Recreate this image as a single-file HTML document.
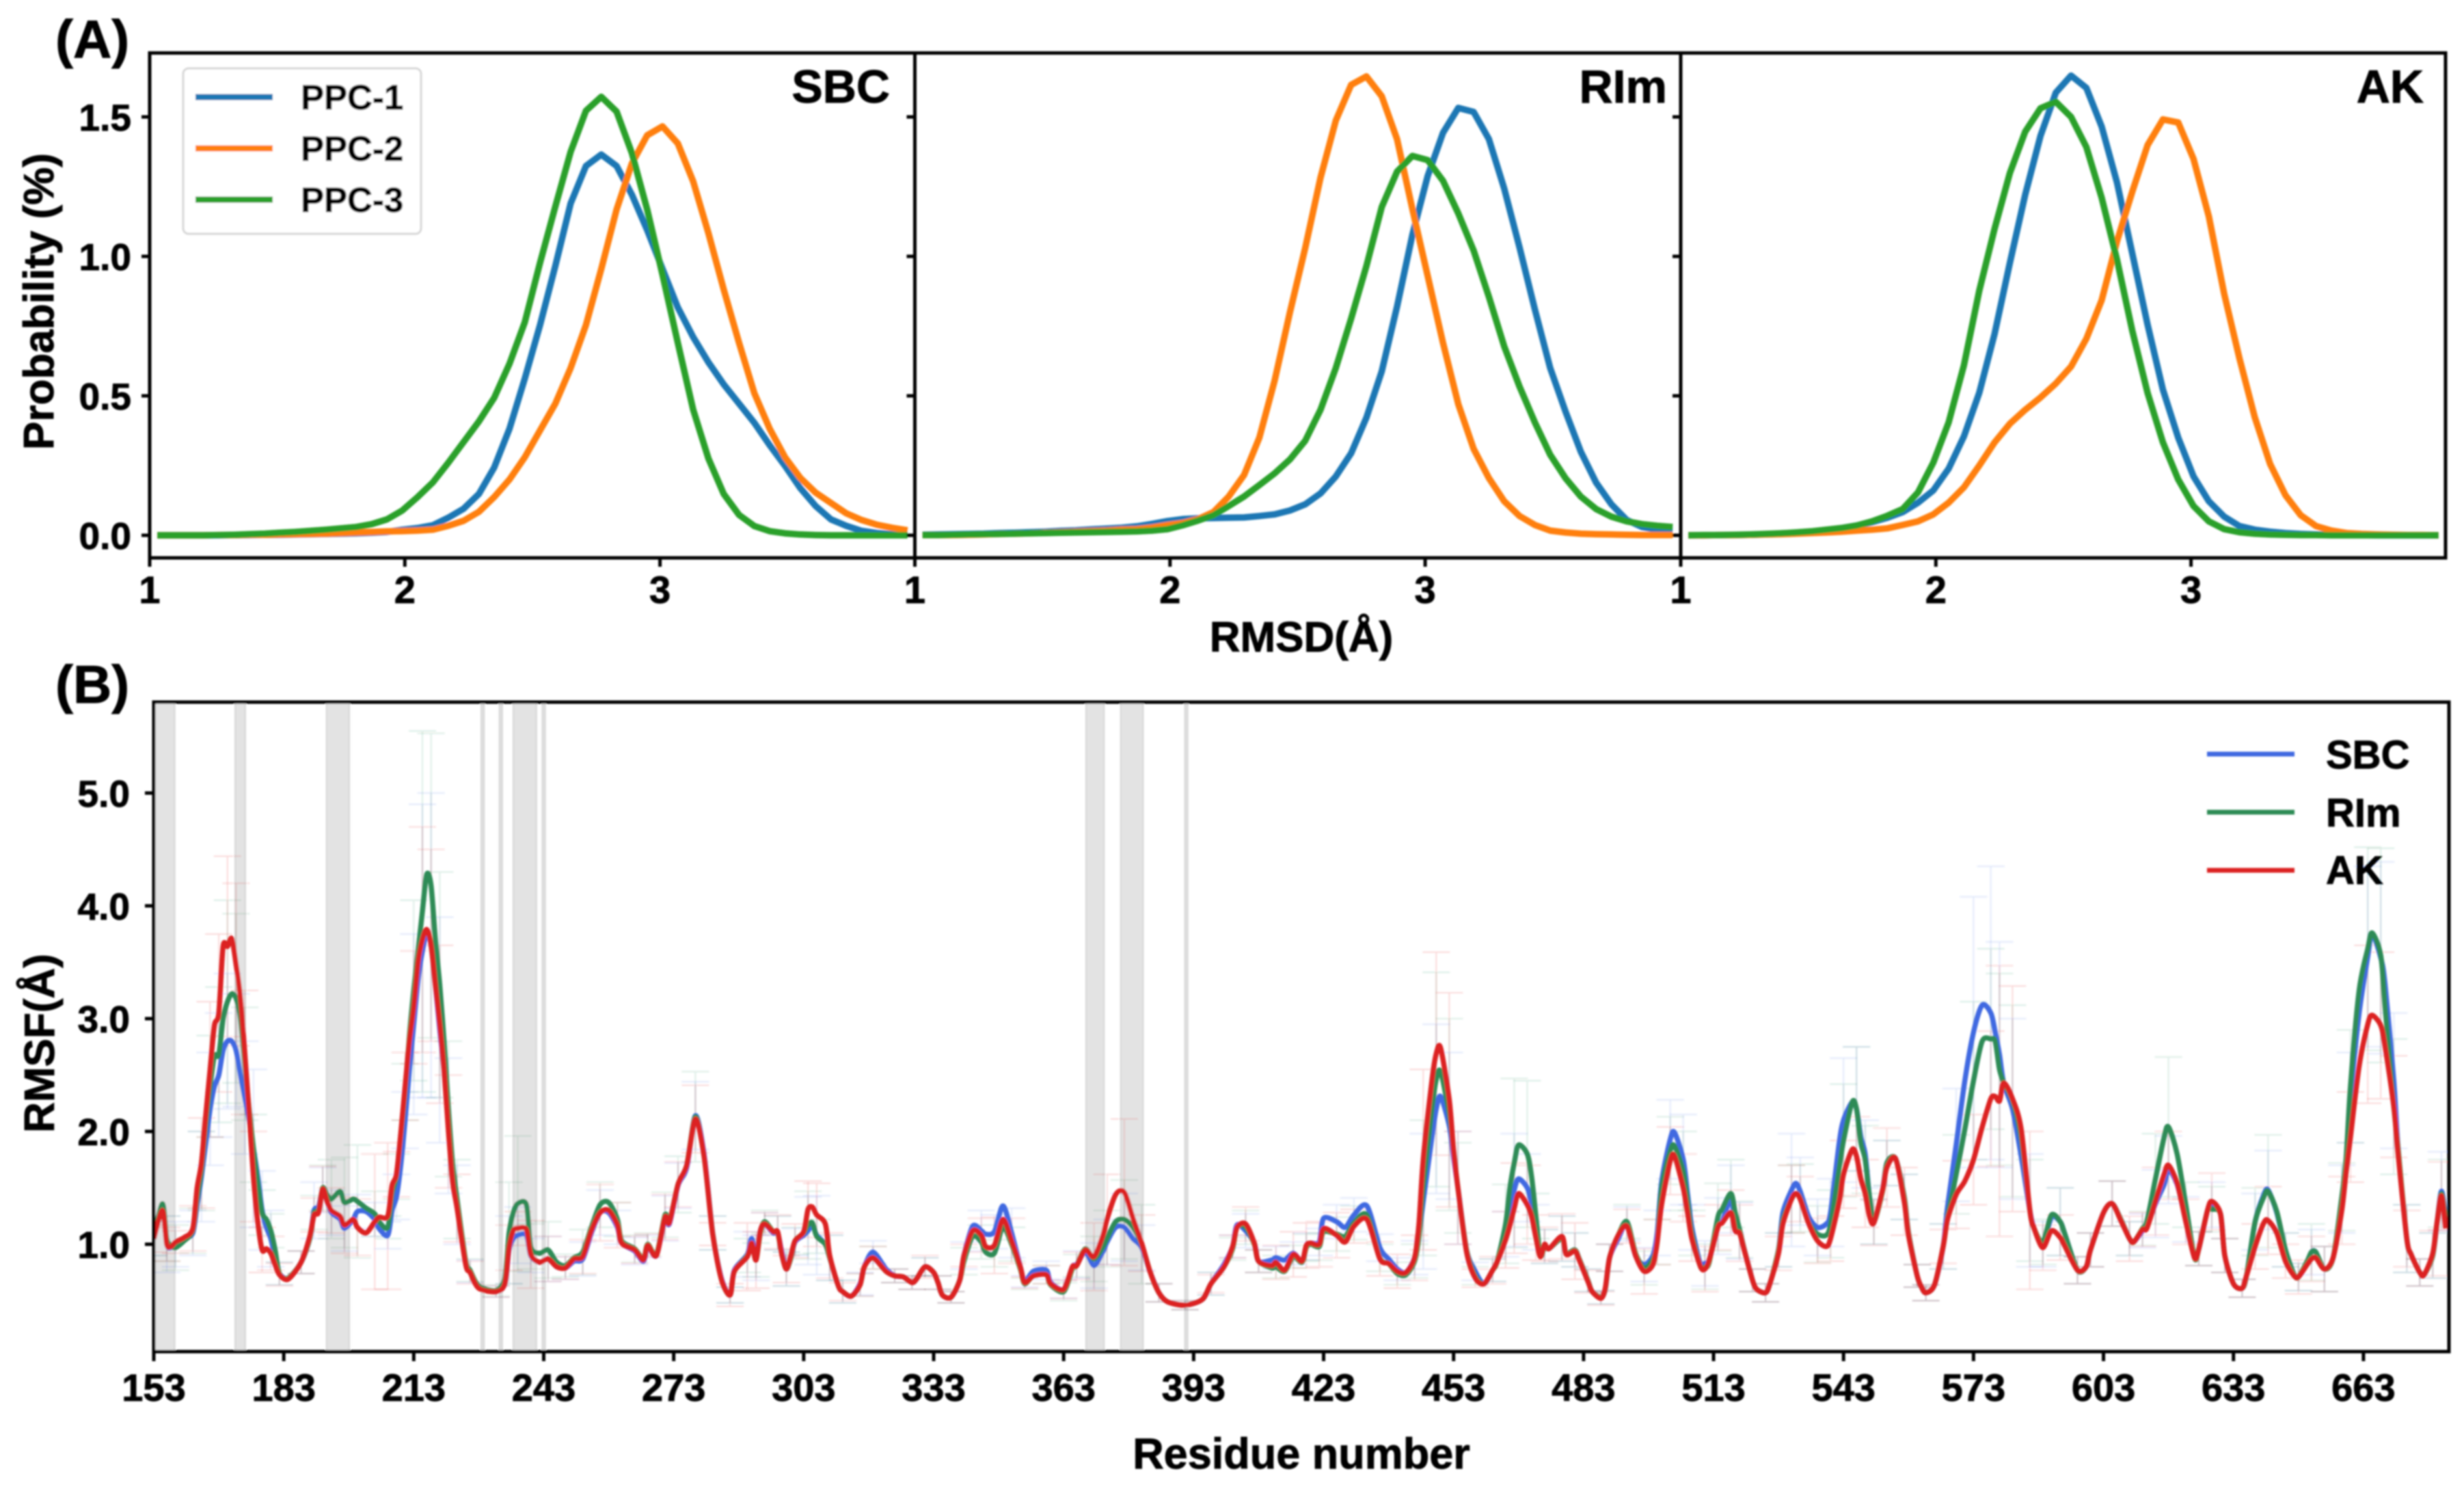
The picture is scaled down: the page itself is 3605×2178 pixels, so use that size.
<!DOCTYPE html>
<html lang="en">
<head>
<meta charset="utf-8">
<title>RMSD and RMSF chart</title>
<style>
html,body{margin:0;padding:0;background:#fff;}
svg{display:block;}
text{font-family:"Liberation Sans",Arial,sans-serif;font-weight:bold;fill:#000;stroke:#000;stroke-width:0.9px;}
</style>
</head>
<body>
<svg id="figure" xmlns="http://www.w3.org/2000/svg" width="3605" height="2178" viewBox="0 0 3605 2178">
<defs>
<filter id="soft" filterUnits="userSpaceOnUse" x="0" y="0" width="3605" height="2178"><feGaussianBlur stdDeviation="1.3"/></filter>
<clipPath id="clip-b"><rect x="225" y="1027" width="3358" height="950"/></clipPath>
</defs>
<rect x="0" y="0" width="3605" height="2178" fill="#fff"/>
<g id="root" filter="url(#soft)">
  <g id="panel-a"></g>
  <g id="panel-b"></g>
  <text x="81" y="84" font-size="78">(A)</text>
  <text x="81" y="1028" font-size="78">(B)</text>
  <text x="1302" y="150" font-size="68" text-anchor="end">SBC</text>
  <text x="2439" y="150" font-size="68" text-anchor="end">RIm</text>
  <text x="3546" y="150" font-size="68" text-anchor="end">AK</text>
  <text transform="translate(78,441) rotate(-90)" font-size="62" text-anchor="middle">Probability (%)</text>
  <text x="1904" y="953" font-size="62" text-anchor="middle">RMSD(Å)</text>
  <text transform="translate(79,1526) rotate(-90)" font-size="62" text-anchor="middle">RMSF(Å)</text>
  <text x="1904" y="2148" font-size="63" text-anchor="middle">Residue number</text>
  <g>
    <rect x="268" y="100" width="348" height="242" rx="8" fill="#fff" stroke="#d6d6d6" stroke-width="3"/>
    <line x1="286" y1="142" x2="399" y2="142" stroke="#1f77b4" stroke-width="9"/>
    <text x="440" y="160" font-size="51">PPC-1</text>
    <line x1="286" y1="217" x2="399" y2="217" stroke="#ff7f0e" stroke-width="9"/>
    <text x="440" y="235" font-size="51">PPC-2</text>
    <line x1="286" y1="292" x2="399" y2="292" stroke="#2ca02c" stroke-width="9"/>
    <text x="440" y="310" font-size="51">PPC-3</text>
  </g>
  <g>
    <line x1="3229" y1="1103" x2="3357" y2="1103" stroke="#4169e1" stroke-width="7"/>
    <text x="3403" y="1124" font-size="58">SBC</text>
    <line x1="3229" y1="1188" x2="3357" y2="1188" stroke="#2e8b57" stroke-width="7"/>
    <text x="3403" y="1209" font-size="58">RIm</text>
    <line x1="3229" y1="1273" x2="3357" y2="1273" stroke="#dc2020" stroke-width="7"/>
    <text x="3403" y="1293" font-size="58">AK</text>
  </g>
</g>
</svg>
<script>
// ---- Panel A data: probability (%) per RMSD bin; bins are 0.06 wide, 50 per curve ----
const rmsdFirstBin = 1.03;
const rmsdBinWidth = 0.06;
const rmsdXTicks = [1, 2, 3];
const probYTicks = [0, 0.5, 1, 1.5];
const probYLabels = ['0.0', '0.5', '1.0', '1.5'];

const sbcPpc1 = [0,0,0,0,0,.001,.001,.002,.002,.003,.004,.005,.006,.007,.009,.012,.02,.026,.036,.063,.095,.148,.243,.382,.562,.754,.966,1.19,1.324,1.365,1.324,1.221,1.094,.955,.817,.711,.62,.541,.472,.403,.323,.249,.169,.105,.057,.034,.016,.008,.004,.002];
const sbcPpc2 = [0,0,0,0,.001,.001,.002,.002,.003,.004,.005,.006,.008,.01,.012,.014,.015,.017,.02,.034,.052,.084,.137,.2,.28,.376,.472,.6,.754,.955,1.168,1.333,1.434,1.466,1.405,1.269,1.083,.881,.69,.509,.382,.28,.206,.153,.116,.079,.055,.038,.027,.018];
const sbcPpc3 = [0,0,0,0,.001,.002,.004,.006,.009,.012,.016,.02,.025,.03,.04,.057,.089,.137,.19,.26,.334,.408,.493,.615,.764,.977,1.179,1.375,1.522,1.572,1.519,1.37,1.168,.934,.69,.451,.275,.148,.073,.033,.015,.007,.003,.001,0,0,0,0,0,0];

const rlmPpc1 = [.002,.003,.004,.005,.006,.008,.009,.011,.013,.016,.018,.021,.024,.027,.032,.041,.051,.058,.061,.062,.063,.064,.069,.075,.089,.111,.15,.211,.294,.422,.588,.82,1.077,1.288,1.443,1.532,1.518,1.42,1.243,1.032,.81,.6,.444,.3,.189,.111,.055,.03,.02,.018];
const rlmPpc2 = [.001,.001,.001,.002,.003,.005,.006,.007,.009,.011,.013,.015,.017,.02,.022,.028,.037,.044,.058,.083,.139,.216,.35,.555,.8,1.03,1.282,1.487,1.615,1.645,1.574,1.42,1.17,.93,.69,.47,.31,.205,.122,.069,.037,.017,.01,.006,.004,.003,.002,.001,.001,.001];
const rlmPpc3 = [.001,.001,.002,.003,.004,.005,.006,.007,.008,.009,.01,.011,.012,.013,.014,.017,.022,.036,.053,.072,.105,.139,.18,.222,.272,.339,.45,.6,.777,.966,1.177,1.304,1.36,1.345,1.271,1.154,1.021,.855,.677,.533,.405,.289,.205,.139,.094,.067,.05,.04,.034,.03];

const akPpc1 = [0,0,.001,.001,.002,.003,.005,.008,.012,.018,.026,.035,.047,.063,.083,.117,.161,.239,.355,.511,.722,.977,1.221,1.432,1.587,1.648,1.604,1.465,1.265,1.01,.755,.522,.35,.211,.122,.067,.033,.02,.013,.008,.005,.003,.002,.001,.001,0,0,0,0,0];
const akPpc2 = [0,0,.001,.001,.002,.003,.004,.006,.008,.01,.013,.017,.02,.025,.037,.05,.075,.117,.172,.25,.333,.4,.45,.494,.544,.605,.705,.843,1.054,1.232,1.399,1.491,1.48,1.349,1.143,.866,.634,.423,.256,.144,.072,.033,.017,.008,.005,.003,.002,.001,.001,0];
const akPpc3 = [0,.001,.001,.002,.003,.005,.007,.01,.014,.02,.026,.035,.05,.07,.094,.154,.261,.405,.61,.877,1.099,1.299,1.447,1.531,1.554,1.5,1.392,1.21,.988,.733,.51,.333,.2,.105,.05,.022,.011,.006,.003,.002,.001,.001,0,0,0,0,0,0,0,0];

const ppcNames = ['ppc-1', 'ppc-2', 'ppc-3'];
const ppcColors = ['#1f77b4', '#ff7f0e', '#2ca02c'];
const rmsdPanelNames = ['sbc', 'rlm', 'ak'];
const rmsdPanelSeries = [[sbcPpc1, sbcPpc2, sbcPpc3], [rlmPpc1, rlmPpc2, rlmPpc3], [akPpc1, akPpc2, akPpc3]];

// ---- Panel B data: RMSF (Å) at the residues listed below ----
const residues = [
153,155,156,157,158,160,162,163,164,165,
166,167,168,169,170,171,172,173,174,175,
176,177,178,179,180,181,182,184,187,189,
190,191,192,193,194,196,197,199,200,202,
204,205,207,208,209,210,211,212,213,214,
215,216,217,218,219,220,221,222,223,225,
226,228,232,234,235,236,237,239,240,242,
244,246,248,250,252,254,256,258,260,261,
264,266,267,269,271,272,274,276,278,280,
282,284,286,287,290,291,292,293,294,296,
297,298,299,300,301,303,304,305,306,308,
309,311,312,314,316,317,319,322,324,326,
328,329,331,333,334,335,337,339,340,342,
344,345,347,349,351,353,354,356,359,360,
363,365,366,368,370,372,373,375,377,379,
381,383,385,387,391,395,397,400,402,403,
405,407,408,411,412,414,416,418,419,420,
422,423,426,428,430,433,436,438,440,442,
444,445,446,448,449,450,452,453,454,456,
458,460,462,463,465,466,467,468,470,471,
472,473,474,475,478,479,481,482,484,485,
487,488,489,491,493,495,497,499,500,501,
503,504,506,507,508,510,511,512,514,515,
517,518,519,520,522,523,525,526,528,529,
531,532,533,535,537,539,540,542,543,545,
546,547,548,549,550,552,553,555,557,558,
560,561,562,564,566,567,569,571,573,575,
577,578,579,580,582,584,586,587,589,591,
593,594,597,599,600,603,605,607,609,610,
612,613,615,617,618,620,622,624,625,627,
628,630,631,633,635,636,638,640,641,643,
645,647,648,650,651,652,654,656,658,659,
660,662,664,665,667,668,670,671,673,674,
676,677,679,680,681,682];

const rmsfSBC = [
1.05,1.32,1.00,.97,1.00,1.05,1.10,1.35,1.60,1.90,
2.20,2.40,2.50,2.72,2.80,2.80,2.72,2.50,2.30,2.10,
1.85,1.60,1.30,1.15,1.05,.88,.74,.70,.84,1.05,
1.30,1.33,1.48,1.38,1.28,1.22,1.14,1.22,1.29,1.29,
1.22,1.14,1.08,1.30,1.42,1.70,2.10,2.55,2.95,3.35,
3.60,3.75,3.65,3.30,2.90,2.55,2.05,1.60,1.35,.84,
.76,.62,.58,.65,.95,1.05,1.08,1.08,.90,.84,
.87,.80,.79,.85,.87,1.10,1.28,1.28,1.15,1.01,
.94,.85,.98,.90,1.23,1.18,1.52,1.68,2.14,1.80,
1.10,.70,.55,.77,.91,1.05,.88,1.12,1.18,1.10,
1.10,.92,.78,.87,1.02,1.08,1.12,1.17,1.08,1.00,
.88,.63,.58,.54,.65,.80,.93,.78,.72,.71,
.66,.69,.80,.75,.66,.55,.53,.68,.90,1.16,
1.12,1.09,1.11,1.34,1.10,.80,.67,.76,.77,.66,
.60,.80,.82,.93,.81,.93,1.02,1.15,1.15,1.05,
.97,.75,.57,.49,.46,.51,.65,.82,.98,1.17,
1.12,1.01,.85,.86,.88,.86,.92,.85,.98,1.01,
1.02,1.23,1.20,1.15,1.26,1.34,.97,.87,.78,.75,
.88,1.09,1.38,1.95,2.20,2.31,2.05,1.77,1.50,.95,
.76,.65,.77,.84,1.09,1.25,1.48,1.58,1.50,1.36,
1.15,.90,.98,.96,1.05,.92,.95,.87,.68,.58,
.53,.60,.88,1.05,1.18,.90,.82,.90,1.10,1.55,
1.93,1.99,1.75,1.45,1.15,.82,.83,.86,1.16,1.20,
1.40,1.18,1.12,.97,.68,.60,.57,.65,.95,1.28,
1.48,1.54,1.47,1.24,1.15,1.18,1.28,1.90,2.10,2.26,
2.20,1.95,1.80,1.42,1.20,1.48,1.72,1.76,1.42,1.10,
.72,.62,.57,.64,.98,1.33,1.88,2.45,2.88,3.12,
3.05,2.88,2.68,2.42,2.20,1.78,1.30,1.14,1.00,1.24,
1.20,1.10,.77,.80,.95,1.28,1.36,1.22,1.05,1.02,
1.12,1.16,1.36,1.53,1.66,1.53,1.22,.88,.96,1.30,
1.35,1.27,.90,.65,.61,.72,1.20,1.44,1.48,1.28,
.95,.73,.71,.83,.93,.93,.78,.88,1.40,1.72,
2.30,3.05,3.55,3.75,3.54,3.30,2.45,1.85,1.05,.91,
.75,.73,.90,1.20,1.47,1.25];

const rmsfRlm = [
1.05,1.36,1.05,.99,.97,1.03,1.12,1.40,1.65,2.05,
2.40,2.67,2.68,3.00,3.15,3.22,3.18,3.00,2.60,2.20,
1.85,1.55,1.28,1.22,1.12,.95,.74,.70,.84,1.05,
1.28,1.30,1.50,1.44,1.40,1.47,1.37,1.40,1.38,1.32,
1.27,1.20,1.15,1.45,1.60,1.95,2.35,2.85,3.25,3.60,
3.95,4.28,4.18,3.70,3.30,2.80,2.20,1.70,1.40,.85,
.77,.63,.59,.70,1.10,1.28,1.36,1.35,.98,.92,
.95,.84,.81,.88,.93,1.15,1.35,1.37,1.22,1.03,
.96,.87,1.00,.91,1.26,1.20,1.53,1.70,2.13,1.78,
1.10,.69,.55,.76,.90,1.00,.86,1.10,1.20,1.11,
1.10,.90,.78,.87,1.03,1.10,1.17,1.19,1.07,1.00,
.88,.63,.58,.54,.64,.80,.88,.76,.72,.71,
.66,.69,.80,.75,.66,.55,.53,.68,.85,1.07,
1.02,.93,.92,1.15,1.00,.78,.65,.72,.73,.64,
.58,.78,.81,.96,.87,.97,1.05,1.20,1.22,1.15,
1.00,.75,.57,.49,.46,.51,.65,.80,.96,1.15,
1.15,1.00,.85,.79,.80,.76,.89,.84,.97,1.00,
.98,1.11,1.09,1.07,1.19,1.26,.88,.83,.74,.73,
.85,1.07,1.50,2.20,2.46,2.53,2.15,1.83,1.50,.95,
.72,.65,.77,.84,1.18,1.50,1.72,1.88,1.80,1.60,
1.25,.90,.98,.96,1.05,.92,.95,.87,.68,.58,
.53,.60,.88,1.08,1.20,.92,.79,.87,1.02,1.50,
1.83,1.87,1.65,1.39,1.10,.80,.80,.84,1.24,1.31,
1.45,1.28,1.13,.97,.68,.60,.57,.65,.95,1.22,
1.40,1.45,1.41,1.19,1.09,1.08,1.18,1.68,1.92,2.26,
2.20,1.90,1.75,1.42,1.20,1.47,1.72,1.76,1.42,1.10,
.72,.62,.57,.64,.98,1.24,1.62,2.02,2.45,2.80,
2.82,2.80,2.55,2.43,2.27,1.94,1.30,1.14,1.02,1.26,
1.20,1.10,.77,.80,.95,1.28,1.36,1.22,1.05,1.02,
1.14,1.20,1.58,1.95,2.04,1.80,1.35,.88,.96,1.30,
1.31,1.27,.90,.65,.61,.72,1.20,1.42,1.47,1.29,
.95,.73,.71,.85,.93,.93,.78,.88,1.42,1.76,
2.40,3.25,3.62,3.76,3.56,3.10,2.22,1.85,1.05,.91,
.75,.73,.90,1.20,1.45,1.22];

const rmsfAK = [
1.05,1.30,1.00,.98,1.02,1.06,1.14,1.50,1.72,2.15,
2.55,2.94,3.05,3.64,3.64,3.71,3.48,3.18,2.70,2.16,
1.60,1.20,.95,.96,.92,.82,.73,.69,.84,1.07,
1.26,1.28,1.49,1.38,1.30,1.25,1.17,1.22,1.15,1.10,
1.20,1.24,1.25,1.52,1.62,1.98,2.40,2.80,3.10,3.50,
3.70,3.79,3.65,3.30,2.95,2.55,2.00,1.55,1.32,.82,
.75,.61,.58,.65,.97,1.12,1.14,1.13,.91,.84,
.87,.80,.79,.87,.89,1.12,1.28,1.30,1.17,1.01,
.95,.86,.99,.90,1.24,1.19,1.53,1.70,2.11,1.78,
1.09,.69,.55,.76,.89,1.01,.86,1.12,1.18,1.11,
1.11,.90,.78,.89,1.03,1.11,1.31,1.33,1.26,1.18,
.90,.63,.58,.54,.64,.80,.88,.76,.72,.71,
.66,.69,.80,.75,.66,.55,.53,.68,.90,1.12,
1.08,.98,.99,1.22,1.03,.80,.66,.72,.73,.65,
.60,.80,.81,.95,.89,1.07,1.22,1.44,1.46,1.23,
1.01,.75,.57,.49,.46,.51,.65,.80,.98,1.15,
1.18,1.01,.85,.81,.84,.77,.91,.85,.99,1.01,
1.00,1.14,1.08,1.02,1.16,1.22,.87,.83,.76,.75,
.88,1.18,1.75,2.45,2.69,2.74,2.28,1.83,1.50,.93,
.70,.65,.77,.84,1.04,1.17,1.32,1.45,1.35,1.25,
1.06,.89,1.00,.96,1.07,.91,.94,.86,.67,.58,
.52,.61,.88,1.08,1.16,.90,.76,.82,1.02,1.35,
1.74,1.78,1.50,1.28,1.05,.80,.78,.86,1.15,1.19,
1.28,1.12,1.10,.96,.68,.60,.57,.65,.92,1.18,
1.40,1.45,1.40,1.18,1.03,.98,1.05,1.38,1.62,1.84,
1.78,1.58,1.45,1.25,1.19,1.48,1.68,1.76,1.38,1.08,
.72,.62,.57,.64,.98,1.22,1.44,1.56,1.75,2.04,
2.29,2.31,2.27,2.43,2.29,2.02,1.30,1.14,.97,1.12,
1.06,.99,.77,.80,.95,1.28,1.36,1.21,1.05,1.02,
1.13,1.14,1.38,1.62,1.70,1.54,1.20,.88,.96,1.30,
1.38,1.27,.90,.65,.61,.72,.98,1.19,1.21,1.10,
.85,.72,.71,.82,.87,.88,.78,.88,1.30,1.64,
1.95,2.58,2.95,3.03,2.94,2.75,2.22,1.80,1.05,.91,
.75,.73,.92,1.20,1.43,1.14];

// Error-bar half-heights, one for every second entry of `residues`
const errSBC = [
.15,.25,.2,.2,.4,.5,.55,.6,.5,.5,.7,.35,.25,.1,.1,.25,.2,.2,.2,.15,.15,.12,.2,.25,.8,
1.3,1.35,1,.6,.35,.1,.05,.3,.25,.15,.2,.1,.15,.2,.15,.12,.1,.2,.2,.3,.15,.07,.2,.2,.1,
.15,.15,.12,.3,.35,.2,.1,.1,.1,.06,.06,.08,.06,.05,.12,.18,.15,.22,.05,.08,.08,.12,.2,.2,.3,
.2,.08,.04,.1,.1,.15,.1,.1,.1,.12,.12,.15,.15,.12,.1,.15,.6,.75,.65,.5,.08,.1,.2,.5,.3,
.2,.15,.2,.15,.1,.06,.12,.15,.15,.2,.35,.4,.2,.2,.25,.3,.25,.1,.08,.15,.5,.3,.25,.3,.55,
.55,.3,.2,.2,.2,.1,.07,.2,.5,1.2,1.3,1,.8,.5,.2,.3,.12,.15,.2,.15,.15,.3,.3,.2,.15,
.2,.15,.08,.25,.35,.15,.12,.2,.2,.3,.4,.8,.85,.6,.3,.12,.2,.35];
const errRlm = [
.15,.2,.2,.2,.35,.45,.6,.9,.75,.5,.3,.2,.15,.1,.1,.15,.2,.35,.4,.5,.2,.1,.2,.25,.8,
1.6,1.35,1,.6,.35,.1,.05,.45,.6,.2,.25,.1,.2,.2,.15,.12,.1,.2,.25,.4,.15,.07,.15,.15,.1,
.15,.15,.12,.3,.15,.2,.1,.1,.1,.06,.06,.08,.06,.05,.12,.15,.12,.15,.05,.08,.08,.1,.2,.25,.35,
.35,.08,.04,.1,.1,.15,.1,.1,.1,.12,.12,.15,.15,.12,.1,.15,.6,.95,.85,.4,.08,.1,.35,.75,.65,
.2,.15,.2,.15,.1,.06,.12,.15,.15,.2,.3,.35,.2,.2,.3,.3,.25,.1,.08,.15,.3,.3,.25,.3,.5,
.55,.3,.2,.2,.2,.1,.07,.2,.35,.7,.8,.85,.85,.45,.2,.3,.12,.15,.2,.15,.15,.4,.62,.2,.15,
.2,.15,.08,.3,.5,.15,.12,.25,.2,.3,.5,.9,.95,.6,.3,.12,.2,.3];
const errAK = [
.12,.15,.1,.2,.4,.6,.7,.8,.72,.55,.4,.2,.15,.1,.1,.15,.2,.2,.25,.25,.6,.65,.2,.3,.5,
1,.85,.7,.5,.3,.1,.05,.2,.15,.3,.2,.1,.15,.25,.2,.12,.1,.2,.2,.3,.1,.1,.3,.25,.1,
.15,.12,.15,.25,.28,.2,.08,.1,.1,.06,.06,.1,.06,.05,.1,.15,.25,.2,.05,.08,.08,.12,.3,.4,.65,
.25,.08,.04,.08,.1,.15,.1,.15,.2,.2,.2,.2,.15,.15,.15,.2,.8,.9,.95,.5,.08,.12,.25,.4,.35,
.2,.15,.2,.25,.1,.06,.12,.15,.2,.2,.3,.3,.2,.2,.2,.2,.25,.1,.08,.15,.3,.2,.2,.2,.3,
.35,.3,.2,.35,.3,.1,.07,.15,.3,.4,.6,1.2,1,.7,.2,.2,.12,.15,.2,.2,.15,.3,.3,.2,.15,
.25,.15,.08,.2,.3,.15,.15,.2,.2,.3,.4,.7,.65,.45,.25,.12,.2,.3];

const bandStarts = [153, 171.8, 192.9, 228.6, 232.8, 236, 242.7, 368.2, 376.2, 391];
const bandEnds = [157.8, 174.1, 198.1, 229.2, 233.4, 241.3, 243.3, 372.3, 381.3, 391.6];
const residueTicks = [153,183,213,243,273,303,333,363,393,423,453,483,513,543,573,603,633,663];
const rmsfTicks = [1, 2, 3, 4, 5];
const rmsfTickLabels = ['1.0', '2.0', '3.0', '4.0', '5.0'];

const rmsfNames = ['sbc', 'rlm', 'ak'];
const rmsfColors = ['#4169e1', '#2e8b57', '#dc2020'];
const rmsfSeries = [rmsfSBC, rmsfRlm, rmsfAK];
const rmsfErrors = [errSBC, errRlm, errAK];

// ---- Axis functions ----
const panelLeft = [219, 1338.5, 2459];
const aTop = 77.5, aBottom = 816, aRight = 3578;
const bLeft = 225, bRight = 3583, bTop = 1027, bBottom = 1977;
function xA(panel, v) { return panelLeft[panel] + (v - 1) * 373.3; }
function yA(v) { return 783 - v * 408; }
function xB(r) { return bLeft + (r - 153) * 6.339; }
function yB(v) { return 1820 - (v - 1) * 165; }

const SVGNS = 'http://www.w3.org/2000/svg';
function make(tag, parent, attrs) {
  const n = document.createElementNS(SVGNS, tag);
  for (const k in attrs) n.setAttribute(k, attrs[k]);
  parent.appendChild(n);
  return n;
}
// Rounded path through the given points, so peaks look like the smooth source curves
function smoothPath(pts) {
  const k = 1 / 7;
  let d = 'M' + pts[0][0].toFixed(1) + ' ' + pts[0][1].toFixed(1);
  for (let i = 0; i < pts.length - 1; i++) {
    const p0 = pts[Math.max(i - 1, 0)], p1 = pts[i], p2 = pts[i + 1], p3 = pts[Math.min(i + 2, pts.length - 1)];
    d += 'C' + (p1[0] + (p2[0] - p0[0]) * k).toFixed(1) + ' ' + (p1[1] + (p2[1] - p0[1]) * k).toFixed(1) + ' ' +
      (p2[0] - (p3[0] - p1[0]) * k).toFixed(1) + ' ' + (p2[1] - (p3[1] - p1[1]) * k).toFixed(1) + ' ' +
      p2[0].toFixed(1) + ' ' + p2[1].toFixed(1);
  }
  return d;
}

// ---- Draw panel A ----
const gA = document.getElementById('panel-a');
rmsdPanelSeries.forEach(function (seriesList, p) {
  seriesList.forEach(function (vals, s) {
    const pts = vals.map(function (v, k) {
      return xA(p, rmsdFirstBin + k * rmsdBinWidth).toFixed(1) + ',' + yA(v).toFixed(1);
    }).join(' ');
    const line = make('polyline', gA, { points: pts, fill: 'none', stroke: ppcColors[s], 'stroke-width': 9.5, 'stroke-linejoin': 'round' });
    
    
  });
  rmsdXTicks.forEach(function (t) {
    const x = xA(p, t);
    const tick = make('line', gA, { x1: x, x2: x, y1: aBottom, y2: aBottom + 13, stroke: '#000', 'stroke-width': 5 });
    
    
    const label = make('text', gA, { x: x, y: 882, 'font-size': 56, 'text-anchor': 'middle' });
    label.textContent = String(t);
    
    
  });
  probYTicks.forEach(function (t) {
    const y = yA(t);
    const tick = make('line', gA, { x1: panelLeft[p] - 12, x2: panelLeft[p], y1: y, y2: y, stroke: '#000', 'stroke-width': 5 });
    
    
  });
});
probYTicks.forEach(function (t, i) {
  const label = make('text', gA, { x: 192, y: yA(t) + 20, 'font-size': 55, 'text-anchor': 'end' });
  label.textContent = probYLabels[i];
  
  
});
const frameA = make('rect', gA, { x: panelLeft[0], y: aTop, width: aRight - panelLeft[0], height: aBottom - aTop, fill: 'none', stroke: '#000', 'stroke-width': 5 });


[1, 2].forEach(function (p) {
  const divider = make('line', gA, { x1: panelLeft[p], x2: panelLeft[p], y1: aTop, y2: aBottom, stroke: '#000', 'stroke-width': 5 });
  
  
});

// ---- Draw panel B ----
const gB = document.getElementById('panel-b');
bandStarts.forEach(function (start, i) {
  const band = make('rect', gB, { x: xB(start), y: bTop, width: xB(bandEnds[i]) - xB(start), height: bBottom - bTop, fill: '#e3e3e3', stroke: '#d9d9d9', 'stroke-width': 2.5 });
  
  
});
const clipped = make('g', gB, { 'clip-path': 'url(#clip-b)' });


rmsfSeries.forEach(function (vals, s) {
  const group = make('g', clipped, { stroke: rmsfColors[s], 'stroke-opacity': 0.15, 'stroke-width': 2, fill: 'none' });
  
  
  rmsfErrors[s].forEach(function (e, k) {
    const i = k * 2;
    const x = xB(residues[i]);
    const top = yB(vals[i] + e);
    const bot = yB(vals[i] - e);
    const d = 'M' + x.toFixed(1) + ' ' + top.toFixed(1) + 'V' + bot.toFixed(1) +
      'M' + (x - 20).toFixed(1) + ' ' + top.toFixed(1) + 'h40' +
      'M' + (x - 20).toFixed(1) + ' ' + bot.toFixed(1) + 'h40';
    const bar = make('path', group, { d: d });
    
    
  });
});
rmsfSeries.forEach(function (vals, s) {
  const pts = vals.map(function (v, i) {
    return [xB(residues[i]), yB(v)];
  });
  const line = make('path', clipped, { d: smoothPath(pts), fill: 'none', stroke: rmsfColors[s], 'stroke-width': 7.5, 'stroke-linejoin': 'round' });
  
  
});
residueTicks.forEach(function (t) {
  const x = xB(t);
  const tick = make('line', gB, { x1: x, x2: x, y1: bBottom, y2: bBottom + 14, stroke: '#000', 'stroke-width': 5 });
  
  
  const label = make('text', gB, { x: x, y: 2049, 'font-size': 56, 'text-anchor': 'middle' });
  label.textContent = String(t);
  
  
});
rmsfTicks.forEach(function (t, i) {
  const y = yB(t);
  const tick = make('line', gB, { x1: bLeft - 13, x2: bLeft, y1: y, y2: y, stroke: '#000', 'stroke-width': 5 });
  
  
  const label = make('text', gB, { x: 190, y: y + 20, 'font-size': 55, 'text-anchor': 'end' });
  label.textContent = rmsfTickLabels[i];
  
  
});
const frameB = make('rect', gB, { x: bLeft, y: bTop, width: bRight - bLeft, height: bBottom - bTop, fill: 'none', stroke: '#000', 'stroke-width': 5 });


</script>
</body>
</html>
